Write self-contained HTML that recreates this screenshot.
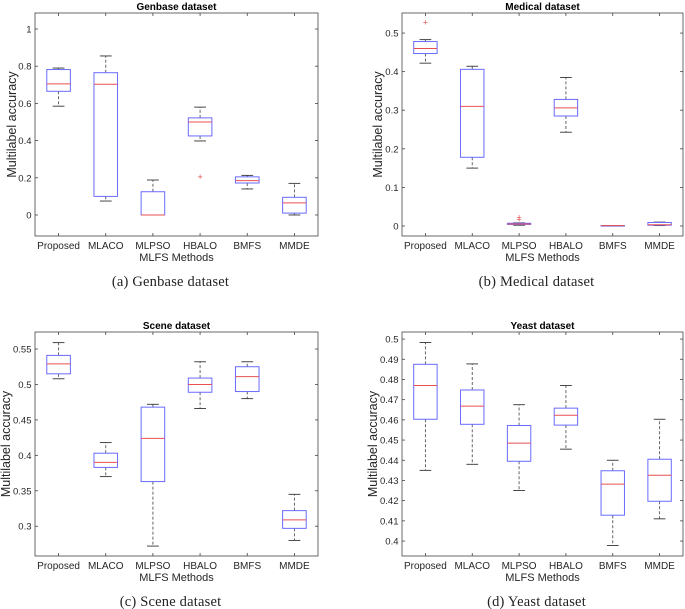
<!DOCTYPE html>
<html><head><meta charset="utf-8"><style>
body{margin:0;background:#fff;}
svg{display:block;font-family:"Liberation Sans",sans-serif;}
</style></head><body>
<svg id="fig" width="685" height="609" viewBox="0 0 685 609"></svg>
<script>
const categories = ["Proposed","MLACO","MLPSO","HBALO","BMFS","MMDE"];
// each stat: [min, q1, median, q3, max]
const genbaseStats = [[0.585,0.665,0.705,0.782,0.79],[0.075,0.1,0.703,0.765,0.855],[0,0,0,0.125,0.188],[0.398,0.425,0.5,0.522,0.58],[0.14,0.172,0.185,0.205,0.213],[0,0.01,0.065,0.095,0.17]];
const genbaseOutliers = [[],[],[],[0.205],[],[]];
const medicalStats = [[0.422,0.447,0.46,0.478,0.483],[0.15,0.178,0.31,0.406,0.414],[0.002,0.004,0.005,0.007,0.008],[0.243,0.285,0.306,0.328,0.385],[0.001,0.001,0.001,0.001,0.001],[0.001,0.002,0.003,0.009,0.01]];
const medicalOutliers = [[0.527],[],[0.017,0.022],[],[],[]];
const sceneStats = [[0.508,0.515,0.529,0.541,0.559],[0.37,0.383,0.39,0.403,0.418],[0.272,0.363,0.424,0.468,0.472],[0.466,0.489,0.5,0.509,0.532],[0.48,0.49,0.511,0.525,0.532],[0.28,0.297,0.309,0.322,0.345]];
const sceneOutliers = [[],[],[],[],[],[]];
const yeastStats = [[0.435,0.4603,0.477,0.4875,0.4983],[0.438,0.4578,0.4668,0.4748,0.4877],[0.425,0.4395,0.4485,0.4572,0.4675],[0.4455,0.4574,0.4623,0.4658,0.477],[0.3978,0.4128,0.4282,0.4348,0.44],[0.411,0.4197,0.4326,0.4405,0.4603]];
const yeastOutliers = [[],[],[],[],[],[]];
const genbaseTicks = ["0","0.2","0.4","0.6","0.8","1"];
const medicalTicks = ["0","0.1","0.2","0.3","0.4","0.5"];
const sceneTicks = ["0.3","0.35","0.4","0.45","0.5","0.55"];
const yeastTicks = ["0.4","0.41","0.42","0.43","0.44","0.45","0.46","0.47","0.48","0.49","0.5"];

const NS="http://www.w3.org/2000/svg";
const svg=document.getElementById('fig');
function mk(tag,attrs,parent,txt){const e=document.createElementNS(NS,tag);for(const k in attrs)e.setAttribute(k,attrs[k]);if(txt!==undefined)e.textContent=txt;(parent||svg).appendChild(e);return e;}

const panels=[
 {key:"genbase",title:"Genbase dataset",cap:"(a) Genbase dataset",L:35,R:318,T:13,B:236,ylOff:19,ymin:-0.113,ymax:1.086,stats:genbaseStats,out:genbaseOutliers,ticks:genbaseTicks},
 {key:"medical",title:"Medical dataset",cap:"(b) Medical dataset",L:402,R:683,T:13,B:236,ylOff:20,ymin:-0.026,ymax:0.552,stats:medicalStats,out:medicalOutliers,ticks:medicalTicks},
 {key:"scene",title:"Scene dataset",cap:"(c) Scene dataset",L:35,R:318,T:332,B:556,ylOff:25,ymin:0.258,ymax:0.574,stats:sceneStats,out:sceneOutliers,ticks:sceneTicks},
 {key:"yeast",title:"Yeast dataset",cap:"(d) Yeast dataset",L:402,R:683,T:332,B:556,ylOff:25,ymin:0.3926,ymax:0.5035,stats:yeastStats,out:yeastOutliers,ticks:yeastTicks}
];

panels.forEach(p=>{
 const g=mk('g',{});
 
 
 const y=v=>p.B-(v-p.ymin)/(p.ymax-p.ymin)*(p.B-p.T);
 const xw=(p.R-p.L)/categories.length;
 const x=i=>p.L+xw*(i+0.5);
 const bw=xw*0.5;
 const ax=mk('rect',{x:p.L,y:p.T,width:p.R-p.L,height:p.B-p.T,fill:'#fff',stroke:'#444','stroke-width':0.8},g);
 
 
 p.ticks.forEach(t=>{
  const v=parseFloat(t),yy=y(v);
  mk('line',{x1:p.L,x2:p.L+3,y1:yy,y2:yy,stroke:'#444','stroke-width':0.8},g);
  mk('line',{x1:p.R,x2:p.R-3,y1:yy,y2:yy,stroke:'#444','stroke-width':0.8},g);
  const tl=mk('text',{x:p.L-3.5,y:yy+3.5,'text-anchor':'end','font-size':9.5,fill:'#262626'},g,t);
  
  
 });
 categories.forEach((c,i)=>{
  const xx=x(i);
  mk('line',{x1:xx,x2:xx,y1:p.B,y2:p.B-3,stroke:'#444','stroke-width':0.8},g);
  mk('line',{x1:xx,x2:xx,y1:p.T,y2:p.T+3,stroke:'#444','stroke-width':0.8},g);
  const tl=mk('text',{x:xx,y:p.B+13,'text-anchor':'middle','font-size':10,fill:'#262626'},g,c);
  
  
  const s=p.stats[i];
  const bg=mk('g',{},g);
  
  
  const dash={stroke:'#555','stroke-width':0.9,'stroke-dasharray':'3,2'};
  mk('line',Object.assign({x1:xx,x2:xx,y1:y(s[3]),y2:y(s[4])},dash),bg);
  mk('line',Object.assign({x1:xx,x2:xx,y1:y(s[1]),y2:y(s[0])},dash),bg);
  mk('line',{x1:xx-bw/4,x2:xx+bw/4,y1:y(s[4]),y2:y(s[4]),stroke:'#333','stroke-width':0.9},bg);
  mk('line',{x1:xx-bw/4,x2:xx+bw/4,y1:y(s[0]),y2:y(s[0]),stroke:'#333','stroke-width':0.9},bg);
  mk('rect',{x:xx-bw/2,y:y(s[3]),width:bw,height:Math.max(0.5,y(s[1])-y(s[3])),fill:'none',stroke:'#6a6aff','stroke-width':1},bg);
  mk('line',{x1:xx-bw/2,x2:xx+bw/2,y1:y(s[2]),y2:y(s[2]),stroke:'#e85050','stroke-width':1},bg);
  p.out[i].forEach(o=>{
   const ot=mk('text',{x:xx,y:y(o)+3,'text-anchor':'middle','font-size':9,fill:'#e05050'},bg,'+');
   
   
  });
 });
 const cx=(p.L+p.R)/2;
 const tt=mk('text',{x:cx,y:p.T-3,'text-anchor':'middle','font-size':10,'font-weight':'bold',fill:'#000'},g,p.title);
 
 
 const xl=mk('text',{x:cx,y:p.B+25,'text-anchor':'middle','font-size':11,fill:'#262626'},g,'MLFS Methods');
 
 
 const ylx=p.L-p.ylOff, yly=(p.T+p.B)/2;
 const yl=mk('text',{x:ylx,y:yly,'text-anchor':'middle','font-size':12.5,fill:'#262626',transform:'rotate(-90 '+ylx+' '+yly+')'},g,'Multilabel accuracy');
 
 
 const cp=mk('text',{x:cx-6,y:p.B+50,'text-anchor':'middle','font-size':14.5,'letter-spacing':'0.2','font-family':'"Liberation Serif",serif',fill:'#222'},g,p.cap);
 
 
});
</script>
</body></html>
